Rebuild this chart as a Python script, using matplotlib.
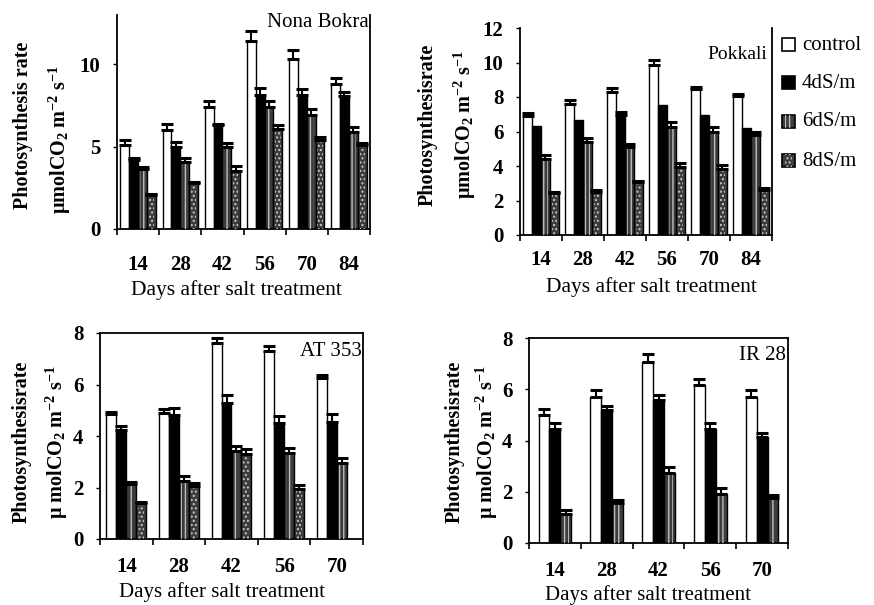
import numpy as np
import matplotlib
matplotlib.use('Agg')
import matplotlib.pyplot as plt
from matplotlib.patches import Rectangle

# ---------------- data ----------------
days6 = ['14', '28', '42', '56', '70', '84']
days5 = ['14', '28', '42', '56', '70']
series_names = ['control', '4dS/m', '6dS/m', '8dS/m']

# Nona Bokra
nb_control = [5.1, 6.0, 7.4, 11.4, 10.3, 8.8]
nb_control_err = [0.3, 0.35, 0.35, 0.6, 0.6, 0.35]
nb_4ds = [4.2, 5.0, 6.3, 8.15, 8.15, 8.1]
nb_4ds_err = [0.1, 0.3, 0.1, 0.4, 0.35, 0.2]
nb_6ds = [3.65, 4.1, 5.0, 7.4, 6.9, 5.9]
nb_6ds_err = [0.1, 0.2, 0.25, 0.4, 0.4, 0.3]
nb_8ds = [2.05, 2.8, 3.55, 6.05, 5.4, 5.1]
nb_8ds_err = [0.05, 0.05, 0.25, 0.25, 0.2, 0.15]

# Pokkali
pk_control = [6.9, 7.6, 8.3, 9.85, 8.45, 8.05]
pk_control_err = [0.2, 0.2, 0.2, 0.3, 0.15, 0.15]
pk_4ds = [6.3, 6.65, 6.95, 7.55, 6.95, 6.2]
pk_4ds_err = [0.0, 0.0, 0.2, 0.0, 0.0, 0.0]
pk_6ds = [4.4, 5.4, 5.1, 6.25, 6.0, 5.8]
pk_6ds_err = [0.25, 0.25, 0.15, 0.3, 0.25, 0.2]
pk_8ds = [2.45, 2.5, 3.1, 3.95, 3.85, 2.6]
pk_8ds_err = [0.05, 0.1, 0.05, 0.2, 0.2, 0.1]

# AT 353
at_control = [4.85, 4.9, 7.6, 7.3, 6.25]
at_control_err = [0.1, 0.15, 0.2, 0.2, 0.12]
at_4ds = [4.25, 4.8, 5.3, 4.5, 4.55]
at_4ds_err = [0.15, 0.28, 0.3, 0.28, 0.3]
at_6ds = [2.15, 2.25, 3.4, 3.35, 2.95]
at_6ds_err = [0.08, 0.18, 0.2, 0.2, 0.18]
at_8ds = [1.4, 2.05, 3.3, 1.95, np.nan]
at_8ds_err = [0.05, 0.12, 0.2, 0.15, np.nan]

# IR 28
ir_control = [5.0, 5.7, 7.05, 6.15, 5.7]
ir_control_err = [0.23, 0.26, 0.32, 0.26, 0.26]
ir_4ds = [4.45, 5.2, 5.6, 4.45, 4.15]
ir_4ds_err = [0.22, 0.16, 0.18, 0.22, 0.13]
ir_6ds = [1.15, 1.55, 2.75, 1.9, 1.75]
ir_6ds_err = [0.13, 0.13, 0.2, 0.23, 0.13]

# ---------------- style ----------------
plt.rcParams['font.family'] = ['Liberation Serif', 'DejaVu Serif']
plt.rcParams['mathtext.fontset'] = 'custom'
plt.rcParams['mathtext.rm'] = 'Liberation Serif'
plt.rcParams['mathtext.it'] = 'Liberation Serif:italic'
plt.rcParams['mathtext.bf'] = 'Liberation Serif:bold'
plt.rcParams['hatch.linewidth'] = 1.0

W, H = 874, 605
fig = plt.figure(figsize=(W / 100, H / 100), dpi=100)

STYLES = [
    dict(face='white', hatch=None, hcol=None),
    dict(face='black', hatch=None, hcol=None),
    dict(face='#3c3c3c', hatch='||||', hcol='#bdbdbd'),
    dict(face='#3c3c3c', hatch='....', hcol='#c8c8c8'),
]


def fx(x):
    return x / W


def fy(y):
    return 1 - y / H


def px_axes(l, t, r, b):
    return fig.add_axes([l / W, 1 - b / H, (r - l) / W, (b - t) / H])


def draw_bars(ax, values, errs, style_idx, bw):
    n = len(values[0])
    k = len(values)
    centers = np.arange(n) + 0.5
    for j, (vals, err, si) in enumerate(zip(values, errs, style_idx)):
        st = STYLES[si]
        x = centers + (j - (k - 1) / 2) * bw
        vals = np.asarray(vals, dtype=float)
        err = np.asarray(err, dtype=float)
        ok = ~np.isnan(vals)
        ax.bar(x[ok], vals[ok], width=bw, color=st['face'], edgecolor='black',
               linewidth=1.0, zorder=2)
        if st['hatch']:
            ax.bar(x[ok], vals[ok], width=bw * 0.6, fill=False, hatch=st['hatch'],
                   edgecolor=st['hcol'], linewidth=0, zorder=3)
        m = ok & (err > 0)
        ax.errorbar(x[m], vals[m], yerr=[np.zeros(m.sum()), err[m]], fmt='none',
                    ecolor='black', elinewidth=1.5, capsize=4, capthick=2.2, zorder=4)
    return centers


def setup_axes(ax, n, labels, ylim, yticks, top_spine, xpad, fs):
    ax.set_xlim(0, n)
    ax.set_ylim(*ylim)
    ax.set_xticks(np.arange(n) + 0.5)
    ax.set_xticklabels(labels, fontsize=fs, fontweight='bold')
    ax.set_xticks(np.arange(0, n + 1), minor=True)
    ax.tick_params(axis='x', which='major', length=0, pad=xpad)
    ax.tick_params(axis='x', which='minor', length=4, width=1.2, direction='out')
    ax.set_yticks(yticks)
    ax.set_yticklabels([str(v) for v in yticks], fontsize=fs, fontweight='bold')
    ax.tick_params(axis='y', length=3, width=1.0, direction='out', pad=9)
    for s in ['left', 'bottom', 'right']:
        ax.spines[s].set_linewidth(1.3)
    ax.spines['top'].set_visible(top_spine)
    ax.spines['top'].set_linewidth(1.3)


# ---- Panel 1: Nona Bokra ----
ax1 = px_axes(117, 15, 370, 229)
draw_bars(ax1, [nb_control, nb_4ds, nb_6ds, nb_8ds],
          [nb_control_err, nb_4ds_err, nb_6ds_err, nb_8ds_err], [0, 1, 2, 3], 0.21)
setup_axes(ax1, 6, days6, (0, 13), [0, 5, 10], False, 19, 15)
ax1.text(0.995, 0.965, 'Nona Bokra', transform=ax1.transAxes, ha='right', va='center',
         fontsize=15)
fig.text(fx(236), fy(290), 'Days after salt treatment', ha='center', va='center', fontsize=15.5)
fig.text(fx(23), fy(125), 'Photosynthesis rate', rotation=90, ha='center', va='center',
         fontsize=14.5, fontweight='bold')
fig.text(fx(60), fy(140), r'µmolCO$_\mathregular{2}$ m$^\mathregular{-2}$ s$^\mathregular{-1}$',
         rotation=90, ha='center', va='center', fontsize=14.5, fontweight='bold')

# ---- Panel 2: Pokkali ----
ax2 = px_axes(520, 28, 772, 235)
draw_bars(ax2, [pk_control, pk_4ds, pk_6ds, pk_8ds],
          [pk_control_err, pk_4ds_err, pk_6ds_err, pk_8ds_err], [0, 1, 2, 3], 0.21)
setup_axes(ax2, 6, days6, (0, 12), [0, 2, 4, 6, 8, 10, 12], False, 11, 15)
ax2.text(0.98, 0.87, 'Pokkali', transform=ax2.transAxes, ha='right', va='center',
         fontsize=14)
fig.text(fx(651), fy(287), 'Days after salt treatment', ha='center', va='center', fontsize=15.5)
fig.text(fx(428), fy(125), 'Photosynthesisrate', rotation=90, ha='center', va='center',
         fontsize=14.5, fontweight='bold')
fig.text(fx(465), fy(125), r'µmolCO$_\mathregular{2}$ m$^\mathregular{-2}$ s$^\mathregular{-1}$',
         rotation=90, ha='center', va='center', fontsize=14.5, fontweight='bold')

# legend
leg_y = [45, 83, 122, 161]
for name, st, yy in zip(series_names, STYLES, leg_y):
    r = Rectangle((fx(782), fy(yy + 6)), 13 / W, 13 / H, transform=fig.transFigure,
                  facecolor=st['face'], edgecolor='black', linewidth=1.2)
    fig.add_artist(r)
    if st['hatch']:
        r2 = Rectangle((fx(785), fy(yy + 6)), 7 / W, 13 / H, transform=fig.transFigure,
                       fill=False, hatch=st['hatch'], edgecolor=st['hcol'], linewidth=0)
        fig.add_artist(r2)
    fig.text(fx(802), fy(yy), name, ha='left', va='center', fontsize=15)

# ---- Panel 3: AT 353 ----
ax3 = px_axes(100, 333, 363, 539)
draw_bars(ax3, [at_control, at_4ds, at_6ds, at_8ds],
          [at_control_err, at_4ds_err, at_6ds_err, at_8ds_err], [0, 1, 2, 3], 0.19)
setup_axes(ax3, 5, days5, (0, 8), [0, 2, 4, 6, 8], True, 13, 15)
ax3.text(0.995, 0.91, 'AT 353', transform=ax3.transAxes, ha='right', va='center',
         fontsize=15)
fig.text(fx(222), fy(592), 'Days after salt treatment', ha='center', va='center', fontsize=15)
fig.text(fx(22), fy(442), 'Photosynthesisrate', rotation=90, ha='center', va='center',
         fontsize=14.5, fontweight='bold')
fig.text(fx(57), fy(442), r'µ molCO$_\mathregular{2}$ m$^\mathregular{-2}$ s$^\mathregular{-1}$',
         rotation=90, ha='center', va='center', fontsize=14.5, fontweight='bold')

# ---- Panel 4: IR 28 ----
ax4 = px_axes(529, 338, 788, 543)
draw_bars(ax4, [ir_control, ir_4ds, ir_6ds],
          [ir_control_err, ir_4ds_err, ir_6ds_err], [0, 1, 2], 0.21)
setup_axes(ax4, 5, days5, (0, 8), [0, 2, 4, 6, 8], True, 13, 15)
ax4.text(0.99, 0.915, 'IR 28', transform=ax4.transAxes, ha='right', va='center',
         fontsize=15)
fig.text(fx(648), fy(595), 'Days after salt treatment', ha='center', va='center', fontsize=15)
fig.text(fx(455), fy(442), 'Photosynthesisrate', rotation=90, ha='center', va='center',
         fontsize=14.5, fontweight='bold')
fig.text(fx(487), fy(442), r'µ molCO$_\mathregular{2}$ m$^\mathregular{-2}$ s$^\mathregular{-1}$',
         rotation=90, ha='center', va='center', fontsize=14.5, fontweight='bold')

fig.savefig('out.png', dpi=100)
